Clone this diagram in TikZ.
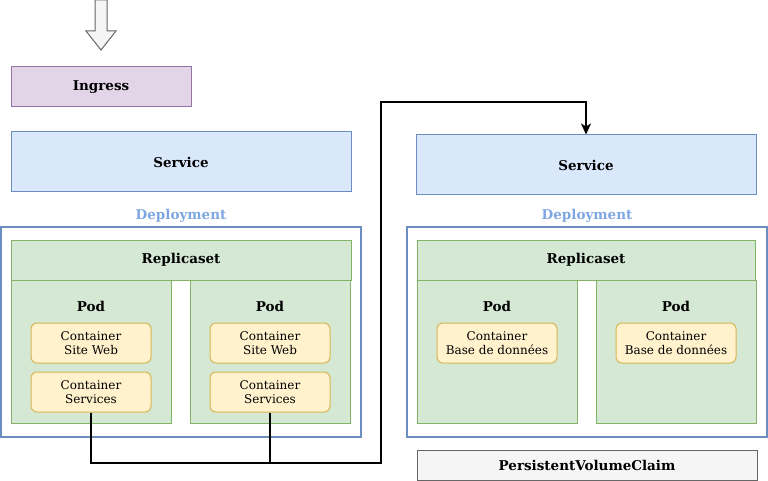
\documentclass[tikz,border=0pt]{standalone}
\usepackage{fontspec}
\setmainfont{DejaVu Serif}
\usepackage{xcolor}
\usepackage{tikz}
\usetikzlibrary{
  arrows.meta,
  positioning,
  calc
}

\definecolor{ingfill}{HTML}{E1D5E7}
\definecolor{ingdraw}{HTML}{9673A6}
\definecolor{svcfill}{HTML}{DAE8FC}
\definecolor{svcdraw}{HTML}{6C8EBF}
\definecolor{deplabel}{HTML}{7EA6E0}
\definecolor{podfill}{HTML}{D5E8D4}
\definecolor{poddraw}{HTML}{82B366}
\definecolor{ctrfill}{HTML}{FFF2CC}
\definecolor{ctrdraw}{HTML}{D6B656}
\definecolor{pvcfill}{HTML}{F5F5F5}
\definecolor{pvcdraw}{HTML}{666666}

\begin{document}
\begin{tikzpicture}[
  x=1pt, y=-1pt,
  box/.style={
    draw, line width=1pt, inner sep=0pt,
    font=\fontsize{13.5}{16}\selectfont\bfseries
  },
  ingress/.style={box, fill=ingfill, draw=ingdraw,
    minimum width=180pt, minimum height=40pt},
  service/.style={box, fill=svcfill, draw=svcdraw,
    minimum width=340pt, minimum height=60pt},
  deploy/.style={draw=svcdraw, line width=1.6pt, fill=white,
    minimum width=360pt, minimum height=210pt, inner sep=0pt},
  deplabel/.style={font=\fontsize{13.5}{16}\selectfont\bfseries, text=deplabel},
  replica/.style={box, fill=podfill, draw=poddraw,
    minimum width=340pt, minimum height=40pt},
  pod/.style={draw=poddraw, fill=podfill, line width=1pt, inner sep=0pt,
    minimum width=160pt, minimum height=143pt},
  podlabel/.style={font=\fontsize{13.5}{16}\selectfont\bfseries},
  ctr/.style={draw=ctrdraw, fill=ctrfill, line width=1pt, rounded corners=6pt,
    minimum width=120pt, minimum height=40pt, inner sep=0pt, align=center,
    font=\fontsize{12}{14}\selectfont},
  pvc/.style={box, fill=pvcfill, draw=pvcdraw,
    minimum width=340pt, minimum height=30pt},
  link/.style={line width=1.8pt, black}
]
  \useasboundingbox (0,0) rectangle (768,481);

  % entry arrow
  \draw[draw=pvcdraw, fill=pvcfill, line width=1pt]
    (95,0) -- (107,0) -- (107,31) -- (116,31) -- (101,50)
    -- (86,31) -- (95,31) -- cycle;

  % left stack
  \node[ingress] (ingress) at (101,87) {Ingress};
  \node[service] (svcA) at (181,162) {Service};
  \node[deplabel] (depAlbl) at (181,216) {Deployment};
  \node[deploy] (depA) at (181,332) {};
  \node[replica] (rsA) at (181,260) {Replicaset};
  \node[pod] (podA1) at (91,351.5) {};
  \node[pod] (podA2) at (270,351.5) {};
  \node[podlabel] at (91,306) {Pod};
  \node[podlabel] at (270,306) {Pod};
  \node[ctr] (ctrA1w) at (91,343) {Container\\Site Web};
  \node[ctr] (ctrA1s) at (91,392) {Container\\Services};
  \node[ctr] (ctrA2w) at (270,343) {Container\\Site Web};
  \node[ctr] (ctrA2s) at (270,392) {Container\\Services};

  % right stack
  \node[service] (svcB) at (586,165) {Service};
  \node[deplabel] (depBlbl) at (587,216) {Deployment};
  \node[deploy] (depB) at (587,332) {};
  \node[replica, minimum width=338pt] (rsB) at (586,260) {Replicaset};
  \node[pod] (podB1) at (497,351.5) {};
  \node[pod] (podB2) at (676,351.5) {};
  \node[podlabel] at (497,306) {Pod};
  \node[podlabel] at (676,306) {Pod};
  \node[ctr] (ctrB1) at (497,343) {Container\\Base de données};
  \node[ctr] (ctrB2) at (676,343) {Container\\Base de données};
  \node[pvc] (pvc) at (587,465) {PersistentVolumeClaim};

  % link to database service
  \coordinate (bus) at (381,463);
  \coordinate (rise) at (381,102);
  \draw[link] (ctrA2s.south) -- (ctrA2s.south |- bus);
  \draw[link, -{Stealth[length=11pt, width=10pt, inset=3pt]}]
    (ctrA1s.south) |- (bus) -- (rise) -| (svcB.north);
\end{tikzpicture}
\end{document}
